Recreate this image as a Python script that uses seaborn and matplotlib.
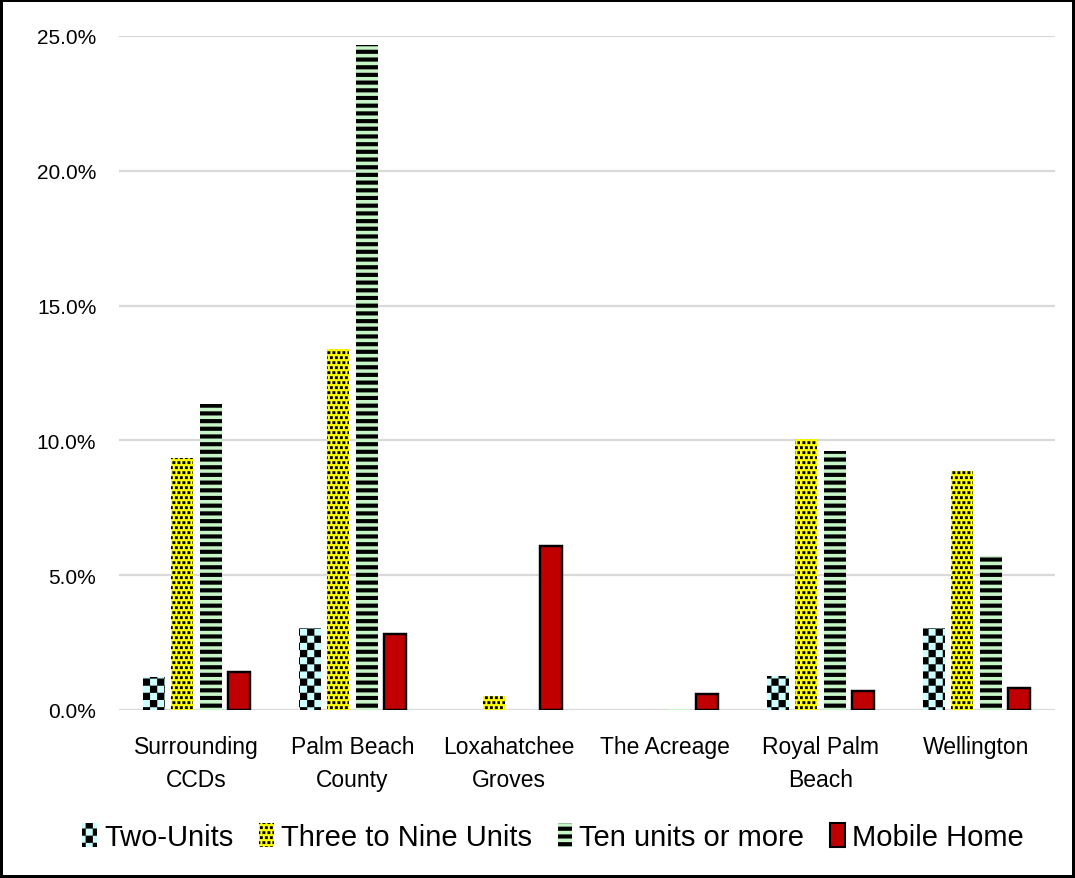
import warnings
import numpy as np
import pandas as pd
import matplotlib
matplotlib.use("Agg")
import matplotlib.pyplot as plt
import matplotlib.hatch as mhatch
from matplotlib.path import Path
from matplotlib.patches import Patch
import seaborn as sns

warnings.filterwarnings("ignore")

# ---------------- data ----------------
categories = ["Surrounding\nCCDs", "Palm Beach\nCounty", "Loxahatchee\nGroves",
              "The Acreage", "Royal Palm\nBeach", "Wellington"]
series = ["Two-Units", "Three to Nine Units", "Ten units or more", "Mobile Home"]
two_units = [1.22, 3.04, 0.0, 0.0, 1.26, 3.04]
three_to_nine = [9.35, 13.40, 0.52, 0.0, 10.05, 8.86]
ten_or_more = [11.35, 24.67, 0.0, 0.05, 9.60, 5.71]
mobile_home = [1.41, 2.82, 6.08, 0.59, 0.72, 0.82]
y_ticks = [0, 5, 10, 15, 20, 25]

face_colors = ["#CCFFFF", "#FFFF00", "#C6F5C6", "#C00000"]
hatches = ["c", "d", "s", None]


# ---------------- custom filled hatch patterns ----------------
class _SquareHatch(mhatch.HatchPatternBase):
    filled = True
    char = None

    def __init__(self, hatch, density):
        self.rects = self._rects() if (hatch and self.char in hatch) else []
        self.num_vertices = 5 * len(self.rects)

    def _rects(self):
        return []

    def set_vertices_and_codes(self, vertices, codes):
        for i, (x, y, w, h) in enumerate(self.rects):
            vertices[5 * i:5 * i + 5] = [(x, y), (x + w, y), (x + w, y + h), (x, y + h), (x, y)]
            codes[5 * i:5 * i + 5] = [Path.MOVETO, Path.LINETO, Path.LINETO,
                                      Path.LINETO, Path.CLOSEPOLY]


class CheckerHatch(_SquareHatch):
    char = "c"

    def _rects(self):
        n = 14
        s = 1.0 / n
        return [(i * s, j * s, s, s) for i in range(n) for j in range(n) if (i + j) % 2 == 0]


class SpeckleHatch(_SquareHatch):
    char = "d"

    def _rects(self):
        n = 20
        s = 1.0 / n
        out = []
        for j in range(n):
            shift = 0.5 * s if j % 2 else 0.0
            for i in range(n):
                out.append((i * s + shift, j * s + 0.2 * s, 0.55 * s, 0.55 * s))
        return out


class StripeHatch(_SquareHatch):
    char = "s"

    def _rects(self):
        n = 13
        s = 1.0 / n
        return [(0.0, j * s, 1.0, 0.52 * s) for j in range(n)]


mhatch._hatch_types.extend([CheckerHatch, SpeckleHatch, StripeHatch])
mhatch._validate_hatch_pattern = lambda hatch: None
plt.rcParams["hatch.linewidth"] = 0.1
plt.rcParams["hatch.color"] = "black"

# ---------------- dataframe ----------------
rows = []
for s_name, vals in zip(series, [two_units, three_to_nine, ten_or_more, mobile_home]):
    for c, v in zip(categories, vals):
        rows.append({"category": c, "series": s_name, "value": v})
df = pd.DataFrame(rows)

sns.set_style("white")
plt.rcParams["font.family"] = ["Liberation Sans", "DejaVu Sans"]
plt.rcParams["text.color"] = "black"

W, H = 1075, 879
fig = plt.figure(figsize=(W / 100, H / 100), dpi=100)
ax = fig.add_axes([118.5 / W, 1 - 711 / H, 936 / W, 674 / H])

sns.barplot(data=df, x="category", y="value", hue="series", order=categories,
            hue_order=series, palette=dict(zip(series, face_colors)), saturation=1,
            width=0.726, gap=0.22, errorbar=None, legend=False, ax=ax)

for cont, fc, ht in zip(ax.containers, face_colors, hatches):
    for p in cont:
        p.set_facecolor(fc)
        p.set_edgecolor("black")
        if ht is None:
            p.set_linewidth(1.75)
        else:
            p.set_hatch(ht)
            p.set_linewidth(0)
        p.set_zorder(3)

ax.set_ylim(0, 25)
ax.set_yticks(y_ticks)
ax.set_yticklabels([f"{t:.1f}%" for t in y_ticks])
ax.yaxis.grid(True, color="#d9d9d9", linewidth=1.6)
ax.set_axisbelow(True)
for sp in ax.spines.values():
    sp.set_visible(False)
ax.set_xlabel("")
ax.set_ylabel("")
ax.tick_params(axis="y", length=0, pad=16, labelsize=15, labelcolor="black")
ax.tick_params(axis="x", length=0, pad=18, labelsize=16.5, labelcolor="black")
for lab in ax.get_xticklabels():
    lab.set_linespacing(1.55)
    lab.set_verticalalignment("top")

handles = [Patch(facecolor=fc, edgecolor="black", hatch=ht,
                 linewidth=(1.5 if ht is None else 0))
           for fc, ht in zip(face_colors, hatches)]
fig.legend(handles, series, loc="center", bbox_to_anchor=(553 / W, 1 - 838 / H),
           ncol=4, frameon=False, fontsize=21, handlelength=0.5, handleheight=0.9,
           handletextpad=0.25, columnspacing=0.88, labelcolor="black")

fig.patch.set_edgecolor("black")
fig.patch.set_linewidth(4)

fig.savefig("out.png", dpi=100)
